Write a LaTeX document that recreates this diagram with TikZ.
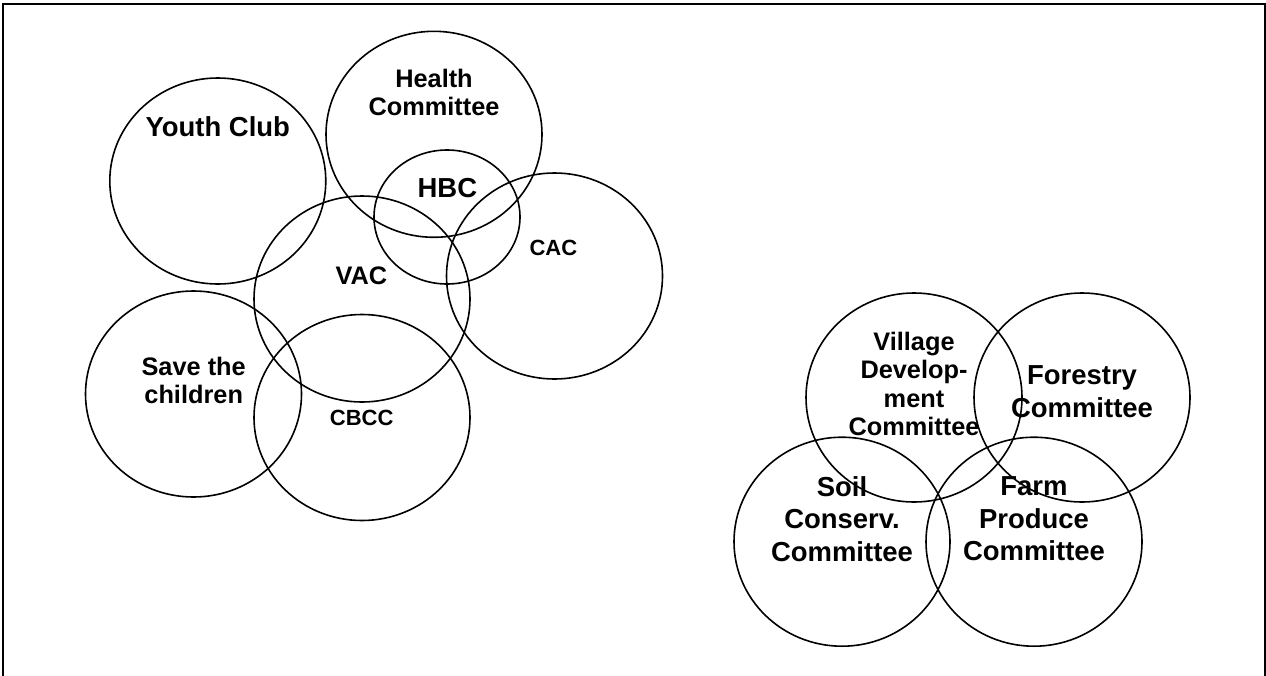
\documentclass[tikz,border=0pt]{standalone}
\usepackage{fontspec}
\setmainfont{Liberation Sans}
\begin{document}
\begin{tikzpicture}[x=0.75pt,y=-0.75pt,
  ring/.style={line width=1.2pt},
  lbl/.style={font=\bfseries\fontsize{19}{21.3}\selectfont, align=center, inner sep=0pt},
  lblbig/.style={lbl, font=\bfseries\fontsize{20.6}{24.5}\selectfont},
  lblsmall/.style={lbl, font=\bfseries\fontsize{16.5}{19}\selectfont}]%
\useasboundingbox (0,0) rectangle (1266,675);%
\draw[line width=1.5pt] (3.3,4.3) rectangle (1264.5,700);%
%
% left group
\def\rx{108};%
\def\ry{103};%
\draw[ring] (217.8,181) ellipse [x radius=\rx, y radius=\ry];%
\node[lblbig] (youth) at (217.8,126.8) {Youth Club};%
\draw[ring] (434,134.3) ellipse [x radius=\rx, y radius=\ry];%
\node[lbl] (health) at (434,92.3) {Health\\Committee};%
\draw[ring] (447,217) ellipse [x radius=73, y radius=67];%
\node[lblbig] (hbc) at (447.4,187.8) {HBC};%
\draw[ring] (554.5,276) ellipse [x radius=\rx, y radius=\ry];%
\node[lblsmall] (cac) at (553.4,248) {CAC};%
\draw[ring] (362,299) ellipse [x radius=\rx, y radius=\ry];%
\node[lbl] (vac) at (361.3,276) {VAC};%
\draw[ring] (193.5,394) ellipse [x radius=\rx, y radius=\ry];%
\node[lbl] (save) at (193.7,380.4) {Save the\\children};%
\draw[ring] (362,417.5) ellipse [x radius=\rx, y radius=\ry];%
\node[lblsmall] (cbcc) at (361.7,418) {CBCC};%
%
% right group
\def\ry{104.5};%
\draw[ring] (914,397.5) ellipse [x radius=\rx, y radius=\ry];%
\node[lbl] (vdc) at (914,384) {Village\\Develop-\\ment\\Committee};%
\draw[ring] (1082,397.5) ellipse [x radius=\rx, y radius=\ry];%
\node[lblbig] (forestry) at (1082,391.7) {Forestry\\Committee};%
\draw[ring] (842,541.7) ellipse [x radius=\rx, y radius=\ry];%
\node[lblbig] (soil) at (842,519) {Soil\\Conserv.\\Committee};%
\draw[ring] (1034,541.7) ellipse [x radius=\rx, y radius=\ry];%
\node[lblbig] (farm) at (1034,519) {Farm\\Produce\\Committee};%
%
\end{tikzpicture}
\end{document}
